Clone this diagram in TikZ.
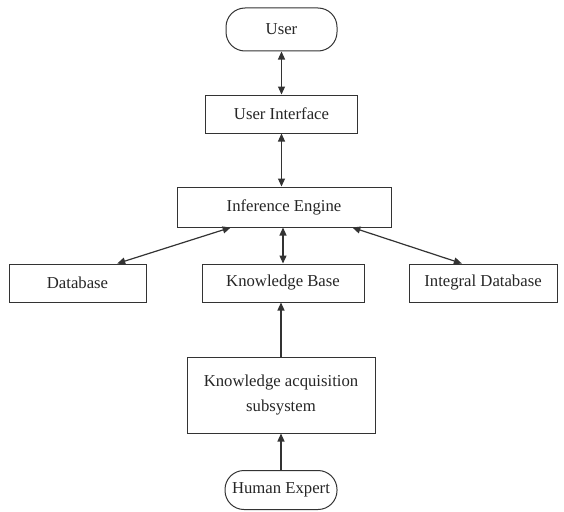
\documentclass[tikz,border=0pt]{standalone}
\usepackage{fontspec}
\setmainfont{Liberation Serif}
\usetikzlibrary{arrows.meta,calc}
\begin{document}
\begin{tikzpicture}[x=1pt,y=-1pt,
  box/.style={draw=black!80, line width=1pt, inner sep=0pt, align=center,
    text=black!85, font=\fontsize{16.7}{25}\selectfont},
  term/.style={box, rounded corners=19pt},
  conn/.style={draw=black!80, line width=1.2pt, {Triangle[length=8pt,width=7pt]}-{Triangle[length=8pt,width=7pt]}},
  uni/.style={draw=black!80, line width=1.2pt, -{Triangle[length=8pt,width=7pt]}}]
\useasboundingbox (0,0) rectangle (564,511);
\node[term, minimum width=111pt, minimum height=43pt] (user) at (281.5,29.5) {User};
\node[box, minimum width=152pt, minimum height=38pt] (ui) at (281.5,114) {User Interface};
\node[box, minimum width=214pt, minimum height=40pt] (ie) at (284,207) {Inference Engine};
\node[box, minimum width=137pt, minimum height=38pt] (db) at (77.5,283) {Database};
\node[box, minimum width=162pt, minimum height=38pt] (kb) at (283,283) {Knowledge Base};
\node[box, minimum width=148pt, minimum height=38pt] (idb) at (483,283) {Integral Database};
\node[box, minimum width=188pt, minimum height=76pt] (kas) at (281,395) {Knowledge acquisition\\subsystem};
\node[term, minimum width=112pt, minimum height=39pt] (he) at (281,490) {Human Expert};
\draw[conn] (user.south) -- (ui.north);
\draw[conn] (ui.south) -- (ui.south |- ie.north);
\draw[conn] ($(ie.south west)!0.252!(ie.south east)$) -- ($(db.north west)!0.788!(db.north east)$);
\draw[conn] (ie.south -| kb.north) -- (kb.north);
\draw[conn] ($(ie.south west)!0.818!(ie.south east)$) -- ($(idb.north west)!0.358!(idb.north east)$);
\draw[uni] (kas.north) -- (kas.north |- kb.south);
\draw[uni] (he.north) -- (he.north |- kas.south);
\end{tikzpicture}
\end{document}
